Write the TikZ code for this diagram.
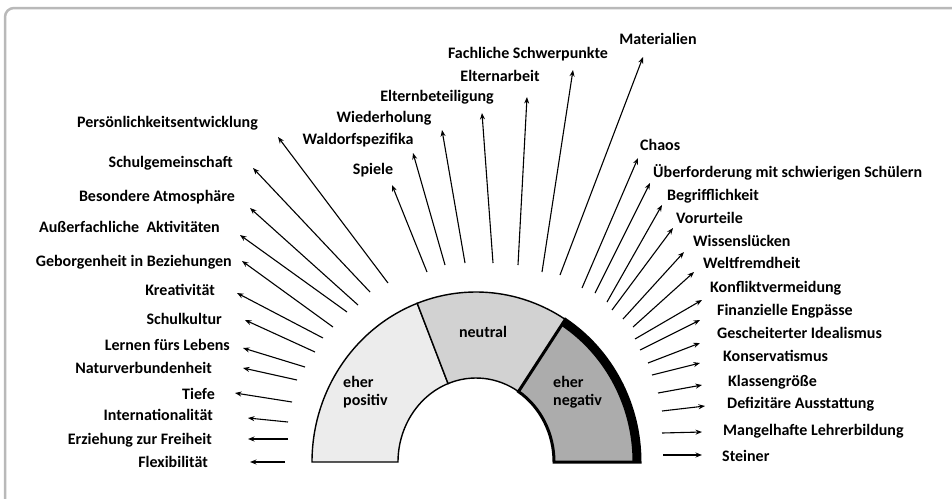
\documentclass[tikz,border=0pt]{standalone}
\usepackage{fontspec}
\setsansfont{Carlito}
\usepackage{xcolor}
\usepackage{tikz}
\usetikzlibrary{arrows.meta}

\begin{document}
\begin{tikzpicture}[>={Stealth[length=6.5pt,width=5pt]}, x=1pt, y=-1pt,
    lbl/.style={font=\sffamily\bfseries\fontsize{16}{18}\selectfont, inner sep=0pt},
    arr/.style={->, line width=1.1pt},
    seg/.style={draw=black, line width=1.4pt}]
    \useasboundingbox (0,0) rectangle (952,498);
    \clip (0,0) rectangle (952,498);
    % Frame
    \draw[gray!55, line width=2.5pt, rounded corners=9pt] (5,8) rectangle (970,515);

    % Half ring
    \begin{scope}[shift={(476,462)}, yscale=-1]
        \path[seg, fill=gray!15] (180:164 and 170) arc[start angle=180, end angle=111, x radius=164, y radius=170]
            -- (111:78 and 84) arc[start angle=111, end angle=180, x radius=78, y radius=84] -- cycle;
        \path[seg, fill=gray!35] (111:164 and 170) arc[start angle=111, end angle=57, x radius=164, y radius=170]
            -- (57:78 and 84) arc[start angle=57, end angle=111, x radius=78, y radius=84] -- cycle;
        \path[seg, fill=gray!65, line width=3pt] (57:164 and 170) arc[start angle=57, end angle=0, x radius=164, y radius=170]
            -- (0:78 and 84) arc[start angle=0, end angle=57, x radius=78, y radius=84] -- cycle;
        \draw[line width=7pt] (57:160 and 166) arc[start angle=57, end angle=0, x radius=160, y radius=166];
    \end{scope}
    \node[lbl, align=left, anchor=west] (ring1) at (343,392) {eher\\positiv};
    \node[lbl] (ring2) at (483,332) {neutral};
    \node[lbl, align=left, anchor=west] (ring3) at (553,392) {eher\\negativ};

    % Positive side
    \node[lbl, anchor=east] (pos1) at (258,123) {Persönlichkeitsentwicklung};
    \node[lbl, anchor=east] (pos2) at (233,163) {Schulgemeinschaft};
    \node[lbl, anchor=east] (pos3) at (235,197) {Besondere Atmosphäre};
    \node[lbl, anchor=east] (pos4) at (220,227) {Außerfachliche~ Aktivitäten};
    \node[lbl, anchor=east] (pos5) at (232,262) {Geborgenheit in Beziehungen};
    \node[lbl, anchor=east] (pos6) at (215,290) {Kreativität};
    \node[lbl, anchor=east] (pos7) at (222,319) {Schulkultur};
    \node[lbl, anchor=east] (pos8) at (230,345) {Lernen fürs Lebens};
    \node[lbl, anchor=east] (pos9) at (212,368) {Naturverbundenheit};
    \node[lbl, anchor=east] (pos10) at (215,394) {Tiefe};
    \node[lbl, anchor=east] (pos11) at (213,415) {Internationalität};
    \node[lbl, anchor=east] (pos12) at (212,440) {Erziehung zur Freiheit};
    \node[lbl, anchor=east] (pos13) at (208,462) {Flexibilität};
    \coordinate (pos1s) at (388,283); \coordinate (pos1e) at (278,137);
    \coordinate (pos2s) at (370,292); \coordinate (pos2e) at (253,168);
    \coordinate (pos3s) at (358,305); \coordinate (pos3e) at (250,208);
    \coordinate (pos4s) at (347,312); \coordinate (pos4e) at (240,235);
    \coordinate (pos5s) at (333,327); \coordinate (pos5e) at (242,261);
    \coordinate (pos6s) at (323,338); \coordinate (pos6e) at (237,293);
    \coordinate (pos7s) at (315,352); \coordinate (pos7e) at (245,320);
    \coordinate (pos8s) at (305,367); \coordinate (pos8e) at (243,348);
    \coordinate (pos9s) at (297,380); \coordinate (pos9e) at (243,368);
    \coordinate (pos10s) at (292,402); \coordinate (pos10e) at (235,393);
    \coordinate (pos11s) at (288,422); \coordinate (pos11e) at (248,418);
    \coordinate (pos12s) at (288,439); \coordinate (pos12e) at (248,439);
    \coordinate (pos13s) at (285,462); \coordinate (pos13e) at (250,462);
    \draw[arr] (pos1s) -- (pos1e);
    \draw[arr] (pos2s) -- (pos2e);
    \draw[arr] (pos3s) -- (pos3e);
    \draw[arr] (pos4s) -- (pos4e);
    \draw[arr] (pos5s) -- (pos5e);
    \draw[arr] (pos6s) -- (pos6e);
    \draw[arr] (pos7s) -- (pos7e);
    \draw[arr] (pos8s) -- (pos8e);
    \draw[arr] (pos9s) -- (pos9e);
    \draw[arr] (pos10s) -- (pos10e);
    \draw[arr] (pos11s) -- (pos11e);
    \draw[arr] (pos12s) -- (pos12e);
    \draw[arr] (pos13s) -- (pos13e);

    % Neutral (top)
    \node[lbl] (neu1) at (373,170) {Spiele};
    \node[lbl] (neu2) at (358,140) {Waldorfspezifika};
    \node[lbl] (neu3) at (384,118) {Wiederholung};
    \node[lbl] (neu4) at (437,97) {Elternbeteiligung};
    \node[lbl] (neu5) at (500,76) {Elternarbeit};
    \node[lbl] (neu6) at (528,54) {Fachliche Schwerpunkte};
    \node[lbl] (neu7) at (658,39) {Materialien};
    \coordinate (neu1s) at (427,272); \coordinate (neu1e) at (392,185);
    \coordinate (neu2s) at (445,265); \coordinate (neu2e) at (413,153);
    \coordinate (neu3s) at (465,263); \coordinate (neu3e) at (442,130);
    \coordinate (neu4s) at (493,263); \coordinate (neu4e) at (482,113);
    \coordinate (neu5s) at (518,265); \coordinate (neu5e) at (527,97);
    \coordinate (neu6s) at (542,272); \coordinate (neu6e) at (573,70);
    \coordinate (neu7s) at (560,275); \coordinate (neu7e) at (643,57);
    \draw[arr] (neu1s) -- (neu1e);
    \draw[arr] (neu2s) -- (neu2e);
    \draw[arr] (neu3s) -- (neu3e);
    \draw[arr] (neu4s) -- (neu4e);
    \draw[arr] (neu5s) -- (neu5e);
    \draw[arr] (neu6s) -- (neu6e);
    \draw[arr] (neu7s) -- (neu7e);

    % Negative side
    \node[lbl, anchor=west] (neg1) at (640,145) {Chaos};
    \node[lbl, anchor=west] (neg2) at (653,172) {Überforderung mit schwierigen Schülern};
    \node[lbl, anchor=west] (neg3) at (667,196) {Begrifflichkeit};
    \node[lbl, anchor=west] (neg4) at (676,218) {Vorurteile};
    \node[lbl, anchor=west] (neg5) at (693,241) {Wissenslücken};
    \node[lbl, anchor=west] (neg6) at (703,263) {Weltfremdheit};
    \node[lbl, anchor=west] (neg7) at (710,288) {Konfliktvermeidung};
    \node[lbl, anchor=west] (neg8) at (717,311) {Finanzielle Engpässe};
    \node[lbl, anchor=west] (neg9) at (717,333) {Gescheiterter Idealismus};
    \node[lbl, anchor=west] (neg10) at (723,356) {Konservatismus};
    \node[lbl, anchor=west] (neg11) at (728,382) {Klassengröße};
    \node[lbl, anchor=west] (neg12) at (727,404) {Defizitäre Ausstattung};
    \node[lbl, anchor=west] (neg13) at (723,431) {Mangelhafte Lehrerbildung};
    \node[lbl, anchor=west] (neg14) at (722,456) {Steiner};
    \coordinate (neg1s) at (582,288); \coordinate (neg1e) at (638,158);
    \coordinate (neg2s) at (595,293); \coordinate (neg2e) at (650,183);
    \coordinate (neg3s) at (607,302); \coordinate (neg3e) at (662,205);
    \coordinate (neg4s) at (612,310); \coordinate (neg4e) at (673,228);
    \coordinate (neg5s) at (623,319); \coordinate (neg5e) at (684,252);
    \coordinate (neg6s) at (633,327); \coordinate (neg6e) at (694,272);
    \coordinate (neg7s) at (635,339); \coordinate (neg7e) at (702,300);
    \coordinate (neg8s) at (640,350); \coordinate (neg8e) at (700,320);
    \coordinate (neg9s) at (648,363); \coordinate (neg9e) at (700,343);
    \coordinate (neg10s) at (652,375); \coordinate (neg10e) at (700,363);
    \coordinate (neg11s) at (658,393); \coordinate (neg11e) at (702,385);
    \coordinate (neg12s) at (662,411); \coordinate (neg12e) at (705,406);
    \coordinate (neg13s) at (662,433); \coordinate (neg13e) at (702,432);
    \coordinate (neg14s) at (663,455); \coordinate (neg14e) at (702,455);
    \draw[arr] (neg1s) -- (neg1e);
    \draw[arr] (neg2s) -- (neg2e);
    \draw[arr] (neg3s) -- (neg3e);
    \draw[arr] (neg4s) -- (neg4e);
    \draw[arr] (neg5s) -- (neg5e);
    \draw[arr] (neg6s) -- (neg6e);
    \draw[arr] (neg7s) -- (neg7e);
    \draw[arr] (neg8s) -- (neg8e);
    \draw[arr] (neg9s) -- (neg9e);
    \draw[arr] (neg10s) -- (neg10e);
    \draw[arr] (neg11s) -- (neg11e);
    \draw[arr] (neg12s) -- (neg12e);
    \draw[arr] (neg13s) -- (neg13e);
    \draw[arr] (neg14s) -- (neg14e);
\end{tikzpicture}
\end{document}
